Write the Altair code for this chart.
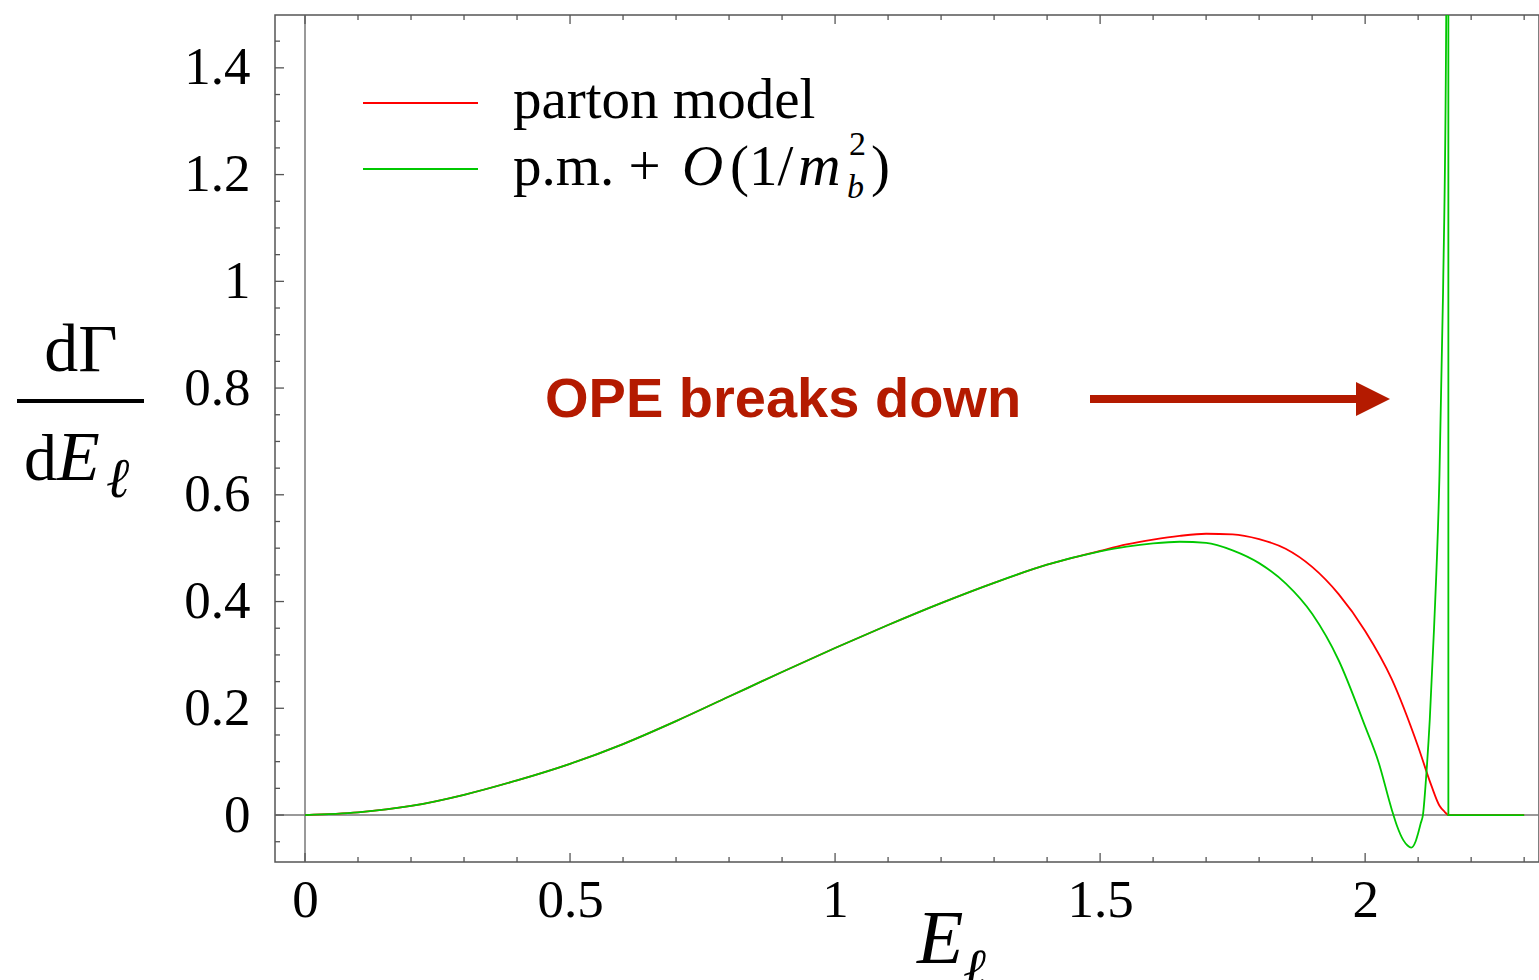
import altair as alt
import pandas as pd

# ---------------- data ----------------
shared_E = [0.0, 0.1, 0.2, 0.3, 0.4, 0.5, 0.6, 0.7, 0.8, 0.9, 1.0, 1.1, 1.2, 1.3, 1.4]
shared_rate = [0.0, 0.005, 0.017, 0.038, 0.065, 0.096, 0.133, 0.176, 0.222, 0.268,
               0.313, 0.356, 0.397, 0.435, 0.469]

red_tail_E = [1.5, 1.55, 1.6, 1.65, 1.7, 1.75, 1.8, 1.85, 1.9, 1.95, 2.0, 2.05, 2.1,
              2.125, 2.14, 2.15, 2.157, 2.2, 2.3]
red_tail_rate = [0.495, 0.507, 0.516, 0.523, 0.527, 0.526, 0.517, 0.499, 0.465, 0.414,
                 0.345, 0.255, 0.128, 0.055, 0.018, 0.006, 0.0, 0.0, 0.0]

green_tail_E = [1.5, 1.55, 1.6, 1.65, 1.7, 1.75, 1.8, 1.85, 1.9, 1.95, 2.0, 2.025, 2.05,
                2.06, 2.072, 2.08, 2.087, 2.095, 2.1, 2.105, 2.109, 2.115, 2.122, 2.13,
                2.14, 2.147, 2.153, 2.156]
green_tail_rate = [0.494, 0.503, 0.509, 0.512, 0.510, 0.496, 0.472, 0.434, 0.377, 0.290,
                   0.166, 0.100, 0.011, -0.020, -0.047, -0.057, -0.061, -0.050, -0.034,
                   -0.015, 0.0, 0.07, 0.18, 0.35, 0.628, 0.98, 1.5, 2.2]
# vertical drop back to zero at the end point, then flat
green_end_E = [2.156, 2.157, 2.157, 2.2, 2.3]
green_end_rate = [2.2, 2.2, 0.0, 0.0, 0.0]

x_label_values = [0, 0.5, 1, 1.5, 2]
y_label_values = [0, 0.2, 0.4, 0.6, 0.8, 1.0, 1.2, 1.4]
x_major_ticks = [0, 0.5, 1.0, 1.5, 2.0]
x_minor_ticks = [0.1, 0.2, 0.3, 0.4, 0.6, 0.7, 0.8, 0.9, 1.1, 1.2, 1.3, 1.4,
                 1.6, 1.7, 1.8, 1.9, 2.1, 2.2, 2.3]
y_major_ticks = [0, 0.2, 0.4, 0.6, 0.8, 1.0, 1.2, 1.4]
y_minor_ticks = [-0.05, 0.05, 0.1, 0.15, 0.25, 0.3, 0.35, 0.45, 0.5, 0.55, 0.65, 0.7,
                 0.75, 0.85, 0.9, 0.95, 1.05, 1.1, 1.15, 1.25, 1.3, 1.35, 1.45]

series_names = ["parton model", "p.m. + O(1/m_b^2)"]
annotation_text = "OPE breaks down"

X_DOMAIN = [-0.0566, 2.328]
Y_DOMAIN = [-0.088, 1.499]
W, H = 1264, 847

RED = "#ff0000"
GREEN = "#00c800"
ANNOT = "#b41a00"
SERIF = "Liberation Serif, DejaVu Serif"
SANS = "Liberation Sans, Arial, sans-serif"

xs = alt.Scale(domain=X_DOMAIN, nice=False, zero=False)
ys = alt.Scale(domain=Y_DOMAIN, nice=False, zero=False)


def frame(E, rate):
    df = pd.DataFrame({"E": E, "rate": rate})
    df["i"] = range(len(df))
    return df


red_df = frame(shared_E + red_tail_E, shared_rate + red_tail_rate)
green_df = frame(shared_E + green_tail_E, shared_rate + green_tail_rate)
green_end_df = frame(green_end_E, green_end_rate)

x_axis = alt.Axis(values=x_label_values, format="~g", ticks=False, domain=False, grid=False,
                  labelFont=SERIF, labelFontSize=53, labelColor="black", labelPadding=12,
                  title=None)
y_axis = alt.Axis(values=y_label_values, format="~g", ticks=False, domain=False, grid=False,
                  labelFont=SERIF, labelFontSize=53, labelColor="black", labelPadding=25,
                  title=None)

base_df = pd.DataFrame({"v": [0]})

zero_h = alt.Chart(base_df).mark_rule(color="#777777", strokeWidth=1.5).encode(
    y=alt.datum(0, scale=ys))
zero_v = alt.Chart(base_df).mark_rule(color="#777777", strokeWidth=1.5).encode(
    x=alt.datum(0, scale=xs))

red_line = alt.Chart(red_df).mark_line(color=RED, strokeWidth=1.8, clip=True,
                                       interpolate="monotone").encode(
    x=alt.X("E:Q", scale=xs, axis=x_axis),
    y=alt.Y("rate:Q", scale=ys, axis=y_axis),
    order="i:Q")
green_line = alt.Chart(green_df).mark_line(color=GREEN, strokeWidth=1.8, clip=True,
                                           interpolate="monotone").encode(
    x=alt.X("E:Q", scale=xs),
    y=alt.Y("rate:Q", scale=ys),
    order="i:Q")
green_end = alt.Chart(green_end_df).mark_line(color=GREEN, strokeWidth=1.8, clip=True).encode(
    x=alt.X("E:Q", scale=xs),
    y=alt.Y("rate:Q", scale=ys),
    order="i:Q")


def xticks(vals, length, top):
    df = pd.DataFrame({"t": vals})
    if top:
        yy, yy2 = 0, length
    else:
        yy, yy2 = H, H - length
    return alt.Chart(df).mark_rule(color="#555555", strokeWidth=1.3).encode(
        x=alt.X("t:Q", scale=xs), y=alt.value(yy), y2=alt.value(yy2))


def yticks(vals, length):
    df = pd.DataFrame({"t": vals})
    return alt.Chart(df).mark_rule(color="#555555", strokeWidth=1.3).encode(
        y=alt.Y("t:Q", scale=ys), x=alt.value(0), x2=alt.value(length))


def txt(text, x, y, size, font=SERIF, style="normal", weight="normal", color="black",
        align="left", baseline="alphabetic"):
    return alt.Chart(pd.DataFrame({"t": [text]})).mark_text(
        font=font, fontSize=size, fontStyle=style, fontWeight=weight, color=color,
        align=align, baseline=baseline).encode(text="t:N", x=alt.value(x), y=alt.value(y))


def hline(x1, x2, y, color, width):
    return alt.Chart(base_df).mark_rule(color=color, strokeWidth=width).encode(
        x=alt.value(x1), x2=alt.value(x2), y=alt.value(y))


layers = [
    zero_h, zero_v,
    xticks(x_major_ticks, 9, False), xticks(x_minor_ticks, 5, False),
    xticks(x_major_ticks, 9, True), xticks(x_minor_ticks, 5, True),
    yticks(y_major_ticks, 9), yticks(y_minor_ticks, 5),
    red_line, green_line, green_end,
    # legend
    hline(88, 203, 88, RED, 1.8),
    hline(88, 203, 154, GREEN, 1.8),
    txt(series_names[0], 238, 103, 57),
    txt("p.m. +", 238, 170, 57),
    txt("O", 407, 170, 57, style="italic"),
    txt("(1/", 455, 170, 57),
    txt("m", 523, 170, 59, style="italic"),
    txt("2", 574, 140, 34),
    txt("b", 572, 183, 34, style="italic"),
    txt(")", 596, 170, 57),
    # annotation
    txt(annotation_text, 270, 402, 56, font=SANS, weight="bold", color=ANNOT),
    hline(815, 1085, 384, ANNOT, 8),
    alt.Chart(base_df).mark_point(shape="M-1,-1L1,0L-1,1Z", filled=True, size=1156,
                                  color=ANNOT, opacity=1, strokeWidth=0).encode(
        x=alt.value(1098), y=alt.value(384)),
    # x-axis title
    txt("E", 642, 948, 76, style="italic"),
    txt("\u2113", 688, 972, 55, style="italic"),
    # y-axis title (fraction)
    txt("d\u0393", -194, 356, 68, align="center"),
    hline(-258, -131, 386, "black", 4),
    txt("d", -251, 465, 66),
    txt("E", -218, 465, 70, style="italic"),
    txt("\u2113", -169, 482, 56, style="italic"),
]

chart = alt.layer(*layers).properties(
    width=W, height=H,
    autosize=alt.AutoSizeParams(type="none"),
    padding={"left": 275, "top": 15, "right": 0, "bottom": 118},
    background="white",
).configure_view(stroke="#555555", strokeWidth=1.5)

chart.save("out.html", embed_options={"renderer": "svg", "actions": False})
